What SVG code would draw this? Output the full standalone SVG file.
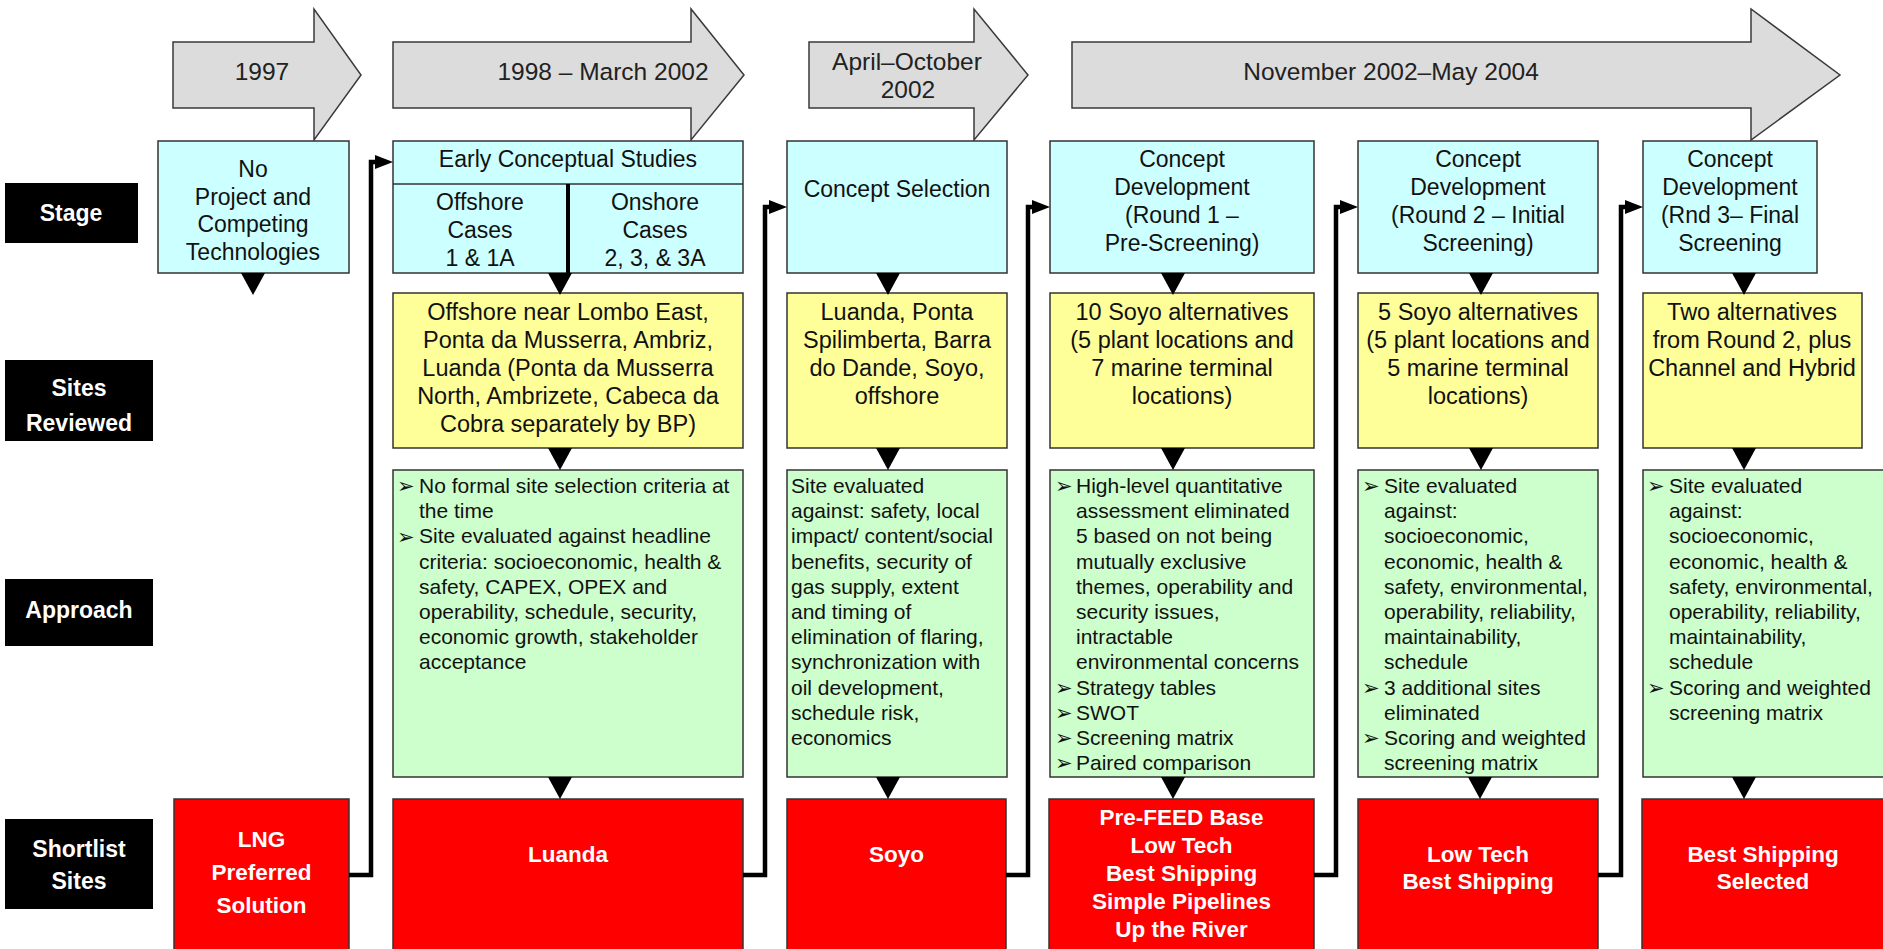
<svg xmlns="http://www.w3.org/2000/svg" width="1883" height="949" viewBox="0 0 1883 949">
<style>
.tl{fill:#dcdcdc;stroke:#3a3a3a;stroke-width:1.5}
.stage{fill:#ccffff;stroke:#333;stroke-width:1.5}
.site{fill:#ffff99;stroke:#333;stroke-width:1.5}
.appr{fill:#ccffcc;stroke:#333;stroke-width:1.5}
.short{fill:#ff0000;stroke:#333;stroke-width:1.5}
.lab{fill:#000}
text{font-family:"Liberation Sans",Arial,sans-serif;fill:#111}
.tt{font-size:24.5px;text-anchor:middle;fill:#222}
.st{font-size:23px;text-anchor:middle}
.ys{font-size:23.5px;text-anchor:middle}
.gr{font-size:21px}
.bul{font-family:"DejaVu Sans",sans-serif;font-size:21px}
.rd{font-size:22.5px;font-weight:bold;text-anchor:middle;fill:#fff}
.lb{font-size:23px;font-weight:bold;text-anchor:middle;fill:#fff}
.conn{fill:none;stroke:#000;stroke-width:4.5;stroke-linejoin:miter}
.tri{fill:#000}
</style>
<defs>
<marker id="ah" markerUnits="userSpaceOnUse" markerWidth="18" markerHeight="14" refX="0" refY="7" orient="auto" viewBox="0 0 18 14"><path d="M0,0 L18,7 L0,14 z" fill="#000"/></marker>
<path id="tr" d="M-12,0 L12,0 L0,22 z"/>
</defs>
<rect width="1883" height="949" fill="#fff"/>

<g id="timeline">
<g id="t1997"><polygon class="tl" points="173,42 314,42 314,9 361,75 314,140 314,108 173,108"/><text class="tt" x="262" y="80">1997</text></g>
<g id="t1998"><polygon class="tl" points="393,42 691,42 691,9 744,75 691,140 691,108 393,108"/><text class="tt" x="603" y="80">1998 – March 2002</text></g>
<g id="t2002"><polygon class="tl" points="809,42 974,42 974,9 1028,75 974,140 974,108 809,108"/><text class="tt" x="907" y="70">April–October</text><text class="tt" x="908" y="98">2002</text></g>
<g id="t2004"><polygon class="tl" points="1072,42 1751,42 1751,9 1840,75 1751,140 1751,108 1072,108"/><text class="tt" x="1391" y="80">November 2002–May 2004</text></g>
</g>

<g id="labels">
<g id="lab-stage"><rect class="lab" x="5" y="183" width="133" height="60"/><text class="lb" x="71" y="221">Stage</text></g>
<g id="lab-sites"><rect class="lab" x="5" y="360" width="148" height="81"/><text class="lb" x="79" y="396">Sites</text><text class="lb" x="79" y="431">Reviewed</text></g>
<g id="lab-approach"><rect class="lab" x="5" y="579" width="148" height="67"/><text class="lb" x="79" y="618">Approach</text></g>
<g id="lab-short"><rect class="lab" x="5" y="819" width="148" height="90"/><text class="lb" x="79" y="857">Shortlist</text><text class="lb" x="79" y="889">Sites</text></g>
</g>

<g id="stage1"><rect class="stage" x="158" y="141" width="191" height="132"/>
<text class="st"><tspan x="253" y="177">No</tspan><tspan x="253" y="205">Project and</tspan><tspan x="253" y="232">Competing</tspan><tspan x="253" y="260">Technologies</tspan></text></g>

<g id="stage2"><rect class="stage" x="393" y="141" width="350" height="132"/>
<line x1="393" y1="184" x2="743" y2="184" stroke="#333" stroke-width="1.5"/>
<line x1="568" y1="184" x2="568" y2="273" stroke="#000" stroke-width="4"/>
<text class="st" x="568" y="167">Early Conceptual Studies</text>
<text class="st"><tspan x="480" y="210">Offshore</tspan><tspan x="480" y="238">Cases</tspan><tspan x="480" y="266">1 &amp; 1A</tspan></text>
<text class="st"><tspan x="655" y="210">Onshore</tspan><tspan x="655" y="238">Cases</tspan><tspan x="655" y="266">2, 3, &amp; 3A</tspan></text></g>

<g id="stage3"><rect class="stage" x="787" y="141" width="220" height="132"/><text class="st" x="897" y="197">Concept Selection</text></g>

<g id="stage4"><rect class="stage" x="1050" y="141" width="264" height="132"/>
<text class="st"><tspan x="1182" y="167">Concept</tspan><tspan x="1182" y="195">Development</tspan><tspan x="1182" y="223">(Round 1 –</tspan><tspan x="1182" y="251">Pre-Screening)</tspan></text></g>

<g id="stage5"><rect class="stage" x="1358" y="141" width="240" height="132"/>
<text class="st"><tspan x="1478" y="167">Concept</tspan><tspan x="1478" y="195">Development</tspan><tspan x="1478" y="223">(Round 2 – Initial</tspan><tspan x="1478" y="251">Screening)</tspan></text></g>

<g id="stage6"><rect class="stage" x="1643" y="141" width="174" height="132"/>
<text class="st"><tspan x="1730" y="167">Concept</tspan><tspan x="1730" y="195">Development</tspan><tspan x="1730" y="223">(Rnd 3– Final</tspan><tspan x="1730" y="251">Screening</tspan></text></g>

<g id="sites1"><rect class="site" x="393" y="293" width="350" height="155"/>
<text class="ys"><tspan x="568" y="320">Offshore near Lombo East,</tspan><tspan x="568" y="348">Ponta da Musserra, Ambriz,</tspan><tspan x="568" y="376">Luanda (Ponta da Musserra</tspan><tspan x="568" y="404">North, Ambrizete, Cabeca da</tspan><tspan x="568" y="432">Cobra separately by BP)</tspan></text></g>

<g id="sites2"><rect class="site" x="787" y="293" width="220" height="155"/>
<text class="ys"><tspan x="897" y="320">Luanda, Ponta</tspan><tspan x="897" y="348">Spilimberta, Barra</tspan><tspan x="897" y="376">do Dande, Soyo,</tspan><tspan x="897" y="404">offshore</tspan></text></g>

<g id="sites3"><rect class="site" x="1050" y="293" width="264" height="155"/>
<text class="ys"><tspan x="1182" y="320">10 Soyo alternatives</tspan><tspan x="1182" y="348">(5 plant locations and</tspan><tspan x="1182" y="376">7 marine terminal</tspan><tspan x="1182" y="404">locations)</tspan></text></g>

<g id="sites4"><rect class="site" x="1358" y="293" width="240" height="155"/>
<text class="ys"><tspan x="1478" y="320">5 Soyo alternatives</tspan><tspan x="1478" y="348">(5 plant locations and</tspan><tspan x="1478" y="376">5 marine terminal</tspan><tspan x="1478" y="404">locations)</tspan></text></g>

<g id="sites5"><rect class="site" x="1643" y="293" width="219" height="155"/>
<text class="ys"><tspan x="1752" y="320">Two alternatives</tspan><tspan x="1752" y="348">from Round 2, plus</tspan><tspan x="1752" y="376">Channel and Hybrid</tspan></text></g>

<g id="appr1"><rect class="appr" x="393" y="470" width="350" height="307"/>
<text class="bul" x="397" y="493">➢</text><text class="bul" x="397" y="544">➢</text>
<text class="gr"><tspan x="419" y="493">No formal site selection criteria at</tspan><tspan x="419" y="518">the time</tspan><tspan x="419" y="543">Site evaluated against headline</tspan><tspan x="419" y="569">criteria: socioeconomic, health &amp;</tspan><tspan x="419" y="594">safety, CAPEX, OPEX and</tspan><tspan x="419" y="619">operability, schedule, security,</tspan><tspan x="419" y="644">economic growth, stakeholder</tspan><tspan x="419" y="669">acceptance</tspan></text></g>

<g id="appr2"><rect class="appr" x="787" y="470" width="220" height="307"/>
<text class="gr"><tspan x="791" y="493">Site evaluated</tspan><tspan x="791" y="518">against: safety, local</tspan><tspan x="791" y="543">impact/ content/social</tspan><tspan x="791" y="569">benefits, security of</tspan><tspan x="791" y="594">gas supply, extent</tspan><tspan x="791" y="619">and timing of</tspan><tspan x="791" y="644">elimination of flaring,</tspan><tspan x="791" y="669">synchronization with</tspan><tspan x="791" y="695">oil development,</tspan><tspan x="791" y="720">schedule risk,</tspan><tspan x="791" y="745">economics</tspan></text></g>

<g id="appr3"><rect class="appr" x="1050" y="470" width="264" height="307"/>
<text class="bul" x="1055" y="493">➢</text><text class="bul" x="1055" y="695">➢</text><text class="bul" x="1055" y="720">➢</text><text class="bul" x="1055" y="745">➢</text><text class="bul" x="1055" y="770">➢</text>
<text class="gr"><tspan x="1076" y="493">High-level quantitative</tspan><tspan x="1076" y="518">assessment eliminated</tspan><tspan x="1076" y="543">5 based on not being</tspan><tspan x="1076" y="569">mutually exclusive</tspan><tspan x="1076" y="594">themes, operability and</tspan><tspan x="1076" y="619">security issues,</tspan><tspan x="1076" y="644">intractable</tspan><tspan x="1076" y="669">environmental concerns</tspan><tspan x="1076" y="695">Strategy tables</tspan><tspan x="1076" y="720">SWOT</tspan><tspan x="1076" y="745">Screening matrix</tspan><tspan x="1076" y="770">Paired comparison</tspan></text></g>

<g id="appr4"><rect class="appr" x="1358" y="470" width="240" height="307"/>
<text class="bul" x="1362" y="493">➢</text><text class="bul" x="1362" y="695">➢</text><text class="bul" x="1362" y="745">➢</text>
<text class="gr"><tspan x="1384" y="493">Site evaluated</tspan><tspan x="1384" y="518">against:</tspan><tspan x="1384" y="543">socioeconomic,</tspan><tspan x="1384" y="569">economic, health &amp;</tspan><tspan x="1384" y="594">safety, environmental,</tspan><tspan x="1384" y="619">operability, reliability,</tspan><tspan x="1384" y="644">maintainability,</tspan><tspan x="1384" y="669">schedule</tspan><tspan x="1384" y="695">3 additional sites</tspan><tspan x="1384" y="720">eliminated</tspan><tspan x="1384" y="745">Scoring and weighted</tspan><tspan x="1384" y="770">screening matrix</tspan></text></g>

<g id="appr5"><rect class="appr" x="1643" y="470" width="250" height="307"/>
<text class="bul" x="1647" y="493">➢</text><text class="bul" x="1647" y="695">➢</text>
<text class="gr"><tspan x="1669" y="493">Site evaluated</tspan><tspan x="1669" y="518">against:</tspan><tspan x="1669" y="543">socioeconomic,</tspan><tspan x="1669" y="569">economic, health &amp;</tspan><tspan x="1669" y="594">safety, environmental,</tspan><tspan x="1669" y="619">operability, reliability,</tspan><tspan x="1669" y="644">maintainability,</tspan><tspan x="1669" y="669">schedule</tspan><tspan x="1669" y="695">Scoring and weighted</tspan><tspan x="1669" y="720">screening matrix</tspan></text></g>

<g id="short0"><rect class="short" x="174" y="799" width="175" height="170"/>
<text class="rd"><tspan x="261.5" y="847">LNG</tspan><tspan x="261.5" y="880">Preferred</tspan><tspan x="261.5" y="913">Solution</tspan></text></g>
<g id="short1"><rect class="short" x="393" y="799" width="350" height="170"/><text class="rd" x="568" y="862">Luanda</text></g>
<g id="short2"><rect class="short" x="787" y="799" width="219" height="170"/><text class="rd" x="896.5" y="862">Soyo</text></g>
<g id="short3"><rect class="short" x="1049" y="799" width="265" height="170"/>
<text class="rd"><tspan x="1181.5" y="825">Pre-FEED Base</tspan><tspan x="1181.5" y="853">Low Tech</tspan><tspan x="1181.5" y="881">Best Shipping</tspan><tspan x="1181.5" y="909">Simple Pipelines</tspan><tspan x="1181.5" y="937">Up the River</tspan></text></g>
<g id="short4"><rect class="short" x="1358" y="799" width="240" height="170"/>
<text class="rd"><tspan x="1478" y="862">Low Tech</tspan><tspan x="1478" y="889">Best Shipping</tspan></text></g>
<g id="short5"><rect class="short" x="1642" y="799" width="260" height="170"/>
<text class="rd"><tspan x="1763" y="862">Best Shipping</tspan><tspan x="1763" y="889">Selected</tspan></text></g>

<g id="connectors">
<path class="conn" d="M349,875 H371 V162 H375" marker-end="url(#ah)"/>
<path class="conn" d="M743,875 H765 V207 H769" marker-end="url(#ah)"/>
<path class="conn" d="M1006,875 H1028 V207 H1032" marker-end="url(#ah)"/>
<path class="conn" d="M1314,875 H1336 V207 H1340" marker-end="url(#ah)"/>
<path class="conn" d="M1598,875 H1621 V207 H1625" marker-end="url(#ah)"/>
<use href="#tr" class="tri" x="253" y="273"/>
<use href="#tr" class="tri" x="560" y="273"/>
<use href="#tr" class="tri" x="888" y="273"/>
<use href="#tr" class="tri" x="1173" y="273"/>
<use href="#tr" class="tri" x="1481" y="273"/>
<use href="#tr" class="tri" x="1744" y="273"/>
<use href="#tr" class="tri" x="560" y="448"/>
<use href="#tr" class="tri" x="888" y="448"/>
<use href="#tr" class="tri" x="1173" y="448"/>
<use href="#tr" class="tri" x="1481" y="448"/>
<use href="#tr" class="tri" x="1744" y="448"/>
<use href="#tr" class="tri" x="560" y="777"/>
<use href="#tr" class="tri" x="888" y="777"/>
<use href="#tr" class="tri" x="1173" y="777"/>
<use href="#tr" class="tri" x="1480" y="777"/>
<use href="#tr" class="tri" x="1744" y="777"/>
</g>
</svg>
